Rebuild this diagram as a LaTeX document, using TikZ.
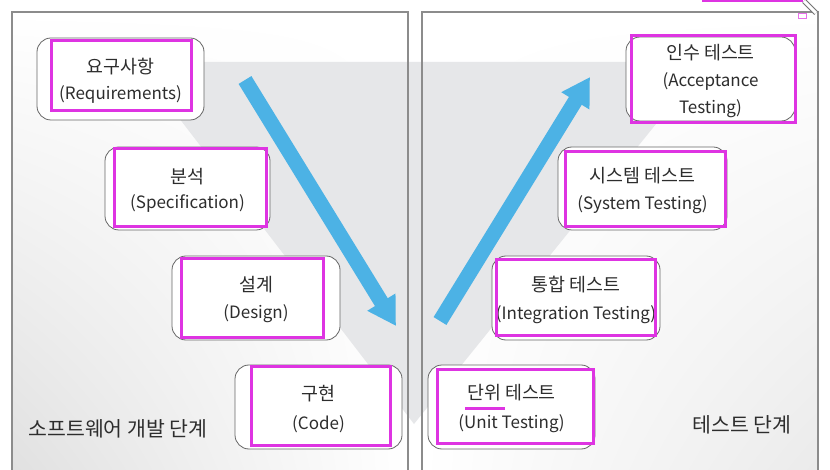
\documentclass[tikz,border=0pt]{standalone}
\usepackage{fontspec}
\setmainfont{Noto Sans CJK KR}
\usetikzlibrary{arrows.meta,shadings}
\definecolor{vgray}{RGB}{230,231,233}
\definecolor{arrowblue}{RGB}{76,178,229}
\definecolor{mag}{RGB}{222,52,226}
\definecolor{txt}{RGB}{45,45,45}
\definecolor{framegray}{RGB}{140,140,140}
\newcommand\krtext{\fontsize{18.4}{27}\selectfont}
\begin{document}
\begin{tikzpicture}[x=1pt,y=-1pt,
  stagebox/.style={draw=black!60, line width=0.8pt, rounded corners=14pt, fill=white, inner sep=0pt},
  stagetext/.style={align=center, text=txt, inner sep=0pt, yshift=-2pt},
  sp/.style={font=\fontsize{17}{#1}\selectfont},
  markbox/.style={draw=mag, line width=3pt, inner sep=0pt},
  flow/.style={draw=arrowblue, line width=15pt, -{Triangle[length=28pt,width=31pt]}},
  phase/.style={text=txt, font=\fontsize{20.5}{24}\selectfont, inner sep=0pt},
  panel/.style={draw=framegray, line width=1.2pt}
]
\useasboundingbox (0,0) rectangle (830,470);
\fill[white] (0,0) rectangle (830,470);
% panels
\path[shade, upper left=white, upper right=white, lower left=black!12, lower right=white] (12,12) rectangle (408,476);
\path[shade, upper left=white, upper right=white, lower left=white, lower right=black!8] (422,12) rectangle (818,476);
% V background
\fill[vgray] (136,62) -- (706,62) -- (414,424) -- cycle;
\draw[panel] (12,476) -- (12,12) -- (408,12) -- (408,476);
\draw[panel] (422,476) -- (422,12) -- (818,12) -- (818,476);
% arrows
\coordinate (a1s) at (245,80);
\coordinate (a1e) at (396,326);
\coordinate (a2s) at (440,321);
\coordinate (a2e) at (590,77);
\draw[flow] (a1s) -- (a1e);
\draw[flow] (a2s) -- (a2e);
% left stages
\node[stagebox, minimum width=167pt, minimum height=82pt] (req) at (120.5,79) {};
\node[stagetext, sp=26] (reqt) at (req) {{\krtext 요구사항}\\(Requirements)};
\node[markbox, minimum width=140pt, minimum height=70pt] (reqm) at (121,76) {};
\node[stagebox, minimum width=165pt, minimum height=83pt] (spec) at (187.5,188.5) {};
\node[stagetext, sp=25.5] (spect) at (spec) {{\krtext 분석}\\(Specification)};
\node[markbox, minimum width=152pt, minimum height=78pt] (specm) at (190.5,187.5) {};
\node[stagebox, minimum width=168pt, minimum height=84pt] (des) at (256,298) {};
\node[stagetext, sp=27] (dest) at (des) {{\krtext 설계}\\(Design)};
\node[markbox, minimum width=142pt, minimum height=79pt] (desm) at (252.5,298) {};
\node[stagebox, minimum width=167pt, minimum height=84pt] (code) at (318.5,407) {};
\node[stagetext, sp=28.5] (codet) at (code) {{\krtext 구현}\\(Code)};
\node[markbox, minimum width=139pt, minimum height=79pt] (codem) at (321,406) {};
% right stages
\node[stagebox, minimum width=169pt, minimum height=84pt] (acc) at (710.5,79) {};
\node[stagetext, sp=27] (acct) at (acc) {{\krtext 인수 테스트}\\(Acceptance\\Testing)};
\node[markbox, minimum width=164pt, minimum height=87pt] (accm) at (713.5,79) {};
\node[stagebox, minimum width=169pt, minimum height=83pt] (sys) at (642.5,188.5) {};
\node[stagetext, sp=27] (syst) at (sys) {{\krtext 시스템 테스트}\\(System Testing)};
\node[markbox, minimum width=160pt, minimum height=75pt] (sysm) at (645.5,189) {};
\node[stagebox, minimum width=168pt, minimum height=84pt] (int) at (576,298) {};
\node[stagetext, sp=28] (intt) at (int) {{\krtext 통합 테스트}\\(Integration Testing)};
\node[markbox, minimum width=159pt, minimum height=76pt] (intm) at (576,297.5) {};
\node[stagebox, minimum width=167pt, minimum height=84pt] (unit) at (511.5,407) {};
\node[stagetext, sp=29] (unitt) at (unit) {{\krtext 단위 테스트}\\(Unit Testing)};
\node[markbox, minimum width=156pt, minimum height=74pt] (unitm) at (515.5,406.5) {};
\coordinate (ul1) at (465,408);
\coordinate (ul2) at (505,408);
\draw[mag, line width=3pt] (ul1) -- (ul2);
% phase labels
\node[phase] (devphase) at (118,429) {소프트웨어 개발 단계};
\node[phase] (testphase) at (742,425) {테스트 단계};
% top-right marks
\coordinate (tm1) at (702,0.5);
\coordinate (tm2) at (803,0.5);
\draw[mag, line width=3pt] (tm1) -- (tm2);
\draw[mag!70, line width=0.8pt] (798,13) rectangle (806,18);
\coordinate (pc1) at (804,1);
\coordinate (pc2) at (816,13);
\draw[black!55, line width=5pt] (pc1) -- (pc2);
\draw[white, line width=3pt] (pc1) -- (pc2);
\end{tikzpicture}
\end{document}
